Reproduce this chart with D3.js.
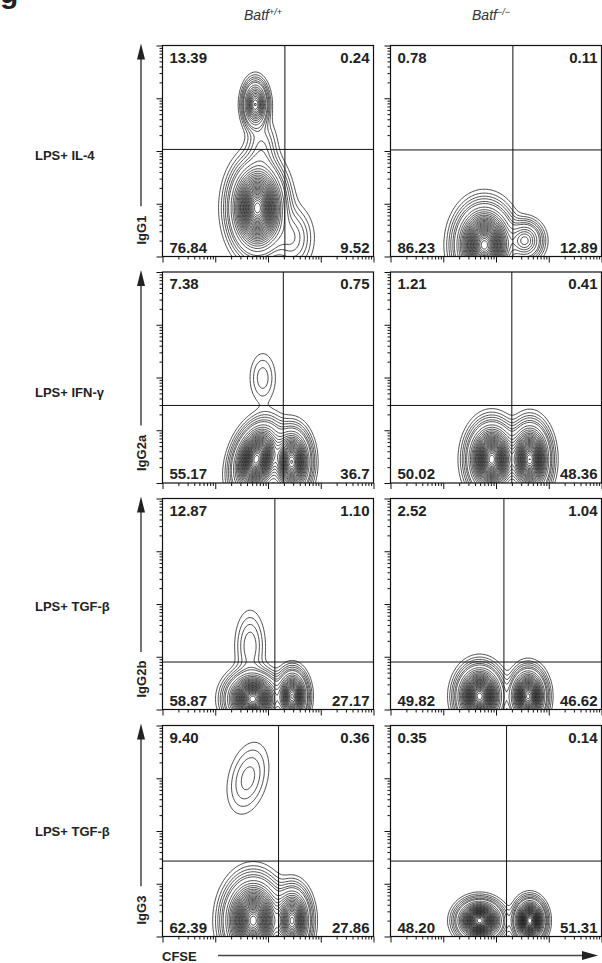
<!DOCTYPE html>
<html>
<head>
<meta charset="utf-8">
<script src="https://cdn.jsdelivr.net/npm/d3@7"></script>
<style>
  body { margin: 0; background: #fff; }
  text { font-family: "Liberation Sans", Arial, sans-serif; }
</style>
</head>
<body>
<svg id="fig"></svg>
<script>
// ---- data ----
const genotypes = ["+/+", "\u2212/\u2212"];
const rowLabels = ["LPS+ IL-4", "LPS+ IFN-\u03b3", "LPS+ TGF-\u03b2", "LPS+ TGF-\u03b2"];
const yLabels = ["IgG1", "IgG2a", "IgG2b", "IgG3"];

// quadrant percentages, panels row by row (Batf+/+ then Batf-/-)
const pctUL = ["13.39", "0.78", "7.38", "1.21", "12.87", "2.52", "9.40", "0.35"];
const pctUR = ["0.24", "0.11", "0.75", "0.41", "1.10", "1.04", "0.36", "0.14"];
const pctLL = ["76.84", "86.23", "55.17", "50.02", "58.87", "49.82", "62.39", "48.20"];
const pctLR = ["9.52", "12.89", "36.7", "48.36", "27.17", "46.62", "27.86", "51.31"];

// quadrant gates (log10 units, axes run 10^0 .. 10^4)
const gateX = [2.32, 2.32, 2.29, 2.30, 2.13, 2.15, 2.20, 2.20];
const gateY = [2.03, 2.02, 1.47, 1.47, 0.90, 0.90, 1.43, 1.43];

// cell populations: [CFSE centre, Ig centre, sd x, sd y, weight, correlation] (log10 units)
const populations = [
  [[1.80, 0.92, 0.23, 0.38, 1.00, 0.0], [1.76, 2.88, 0.11, 0.21, 0.45, 0.0],
   [1.88, 2.05, 0.15, 0.30, 0.045, 0.0], [2.45, 0.35, 0.20, 0.30, 0.06, 0.0]],
  [[1.78, 0.22, 0.24, 0.33, 1.00, 0.0], [2.55, 0.30, 0.16, 0.18, 0.25, 0.0]],
  [[1.90, 1.99, 0.14, 0.27, 0.026, 0.0], [1.78, 0.45, 0.20, 0.30, 1.00, 0.3],
   [2.45, 0.40, 0.16, 0.28, 0.80, 0.0]],
  [[1.92, 0.45, 0.20, 0.30, 1.00, 0.0], [2.64, 0.45, 0.17, 0.30, 0.90, 0.0]],
  [[1.71, 0.20, 0.22, 0.22, 1.00, 0.0], [2.46, 0.25, 0.13, 0.22, 0.70, 0.0],
   [1.66, 1.20, 0.15, 0.35, 0.04, 0.0]],
  [[1.69, 0.25, 0.19, 0.25, 1.00, 0.0], [2.61, 0.25, 0.15, 0.23, 0.85, 0.0]],
  [[1.62, 3.00, 0.21, 0.36, 0.036, 0.3], [1.72, 0.30, 0.24, 0.35, 1.00, 0.0],
   [2.46, 0.30, 0.155, 0.28, 0.70, 0.0]],
  [[1.69, 0.30, 0.19, 0.17, 1.00, 0.0], [2.64, 0.30, 0.13, 0.18, 0.90, 0.0]]
];

// contour levels as a fraction of each panel's peak density
const levels = [0.006, 0.012, 0.02, 0.03, 0.045].concat(d3.range(0.06, 0.98, 0.035));

// ---- layout ----
const W = 602, H = 963;
const colX = [162.5, 390.5];
const rowY = [45.5, 272, 498.5, 725.5];
const rowLabelY = [160, 397, 611, 836];
const pw = 211, ph = 211;

const svg = d3.select("#fig").attr("width", W).attr("height", H);

// cut-off panel letter at the top left
svg.append("text").attr("x", 0).attr("y", 3)
  .attr("font-size", 30).attr("font-weight", "bold").attr("fill", "#222").text("g");

// column headers
genotypes.forEach((g, c) => {
  const t = svg.append("text")
    .attr("x", colX[c] + pw / 2 - 5).attr("y", 20)
    .attr("text-anchor", "middle").attr("font-size", 14)
    .attr("font-style", "italic").attr("fill", "#333");
  t.append("tspan").text("Batf");
  t.append("tspan").attr("font-size", 9).attr("dy", -5).text(g);
});

const minorTicks = [];
d3.range(0, 4).forEach(k => d3.range(2, 10).forEach(m => minorTicks.push(k + Math.log10(m))));
const majorTicks = [0, 1, 2, 3, 4];

// density grid, extended below the axis so contours are cut by it
const gw = 150, gy0 = -0.6, gy1 = 4;
const gh = Math.round(gw * (gy1 - gy0) / 4);

function densityGrid(pops) {
  const v = new Float64Array(gw * gh);
  for (let j = 0; j < gh; j++) {
    const yd = gy1 - (j + 0.5) * (gy1 - gy0) / gh;
    for (let i = 0; i < gw; i++) {
      const xd = (i + 0.5) * 4 / gw;
      let s = 0;
      pops.forEach(([cx, cy, sx, sy, w, r]) => {
        const dx = (xd - cx) / sx, dy = (yd - cy) / sy;
        s += w * Math.exp(-(dx * dx - 2 * r * dx * dy + dy * dy) / (2 * (1 - r * r)));
      });
      v[j * gw + i] = s;
    }
  }
  return v;
}

rowY.forEach((y0, r) => {
  // row label
  svg.append("text").attr("x", 35).attr("y", rowLabelY[r])
    .attr("font-size", 13).attr("font-weight", "bold").attr("fill", "#222")
    .text(rowLabels[r]);

  // y axis arrow + label
  const ax = 141, labBottom = y0 + ph - 12;
  const labLen = yLabels[r].length * 7.3;
  svg.append("line").attr("x1", ax).attr("x2", ax)
    .attr("y1", y0 + 10).attr("y2", labBottom - labLen - 9)
    .attr("stroke", "#444").attr("stroke-width", 1.5);
  svg.append("path")
    .attr("d", `M${ax},${y0 - 2}L${ax - 4},${y0 + 14}L${ax + 4},${y0 + 14}Z`)
    .attr("fill", "#222");
  svg.append("text")
    .attr("transform", `translate(${ax + 5},${labBottom}) rotate(-90)`)
    .attr("font-size", 13).attr("font-weight", "bold").attr("fill", "#222")
    .text(yLabels[r]);

  colX.forEach((x0, c) => {
    const p = r * 2 + c;
    const xs = d3.scaleLinear().domain([0, 4]).range([x0, x0 + pw]);
    const ys = d3.scaleLinear().domain([0, 4]).range([y0 + ph, y0]);
    const g = svg.append("g");

    const clipId = "clip" + p;
    g.append("clipPath").attr("id", clipId)
      .append("rect").attr("x", x0).attr("y", y0).attr("width", pw).attr("height", ph);

    // contours
    const vals = densityGrid(populations[p]);
    const peak = d3.max(vals);
    const contours = d3.contours().size([gw, gh])
      .thresholds(levels.map(t => t * peak))(vals);
    const proj = d3.geoTransform({
      point(x, y) {
        this.stream.point(xs(x * 4 / gw), ys(gy1 - y * (gy1 - gy0) / gh));
      }
    });
    g.append("g").attr("clip-path", `url(#${clipId})`)
      .selectAll("path").data(contours).join("path")
      .attr("d", d3.geoPath(proj))
      .attr("fill", "none").attr("stroke", "#111").attr("stroke-width", 0.75);

    // quadrant gates
    g.append("line").attr("x1", xs(gateX[p])).attr("x2", xs(gateX[p]))
      .attr("y1", y0).attr("y2", y0 + ph).attr("stroke", "#111").attr("stroke-width", 1);
    g.append("line").attr("x1", x0).attr("x2", x0 + pw)
      .attr("y1", ys(gateY[p])).attr("y2", ys(gateY[p])).attr("stroke", "#111").attr("stroke-width", 1);

    // frame
    g.append("rect").attr("x", x0).attr("y", y0).attr("width", pw).attr("height", ph)
      .attr("fill", "none").attr("stroke", "#111").attr("stroke-width", 1.2);

    // log axes
    [[minorTicks, 3], [majorTicks, 6]].forEach(([vals, len]) => {
      g.append("g").attr("transform", `translate(0,${y0 + ph})`)
        .call(d3.axisBottom(xs).tickValues(vals).tickSize(len).tickSizeOuter(0).tickFormat(""))
        .call(a => a.select(".domain").remove())
        .selectAll("line").attr("stroke", "#111");
      g.append("g").attr("transform", `translate(${x0},0)`)
        .call(d3.axisLeft(ys).tickValues(vals).tickSize(len).tickSizeOuter(0).tickFormat(""))
        .call(a => a.select(".domain").remove())
        .selectAll("line").attr("stroke", "#111");
    });

    // quadrant numbers
    const lab = (x, y, anchor, s) => g.append("text").attr("x", x).attr("y", y)
      .attr("text-anchor", anchor).attr("font-size", 15).attr("font-weight", "bold")
      .attr("fill", "#222").text(s);
    lab(x0 + 7, y0 + 17, "start", pctUL[p]);
    lab(x0 + pw - 4, y0 + 17, "end", pctUR[p]);
    lab(x0 + 7, y0 + ph - 4, "start", pctLL[p]);
    lab(x0 + pw - 4, y0 + ph - 4, "end", pctLR[p]);
  });
});

// x axis label with arrow
svg.append("text").attr("x", 162).attr("y", 961)
  .attr("font-size", 13).attr("font-weight", "bold").attr("fill", "#222").text("CFSE");
svg.append("line").attr("x1", 218).attr("x2", 586).attr("y1", 955.5).attr("y2", 955.5)
  .attr("stroke", "#444").attr("stroke-width", 1.3);
svg.append("path").attr("d", "M598,955.5L582,951L582,960Z").attr("fill", "#222");
</script>
</body>
</html>
